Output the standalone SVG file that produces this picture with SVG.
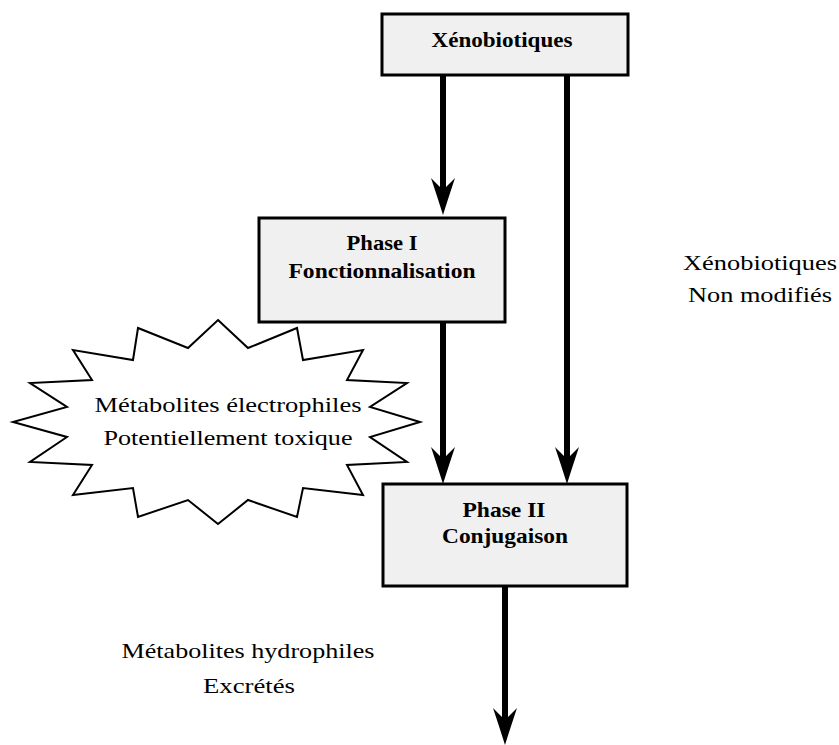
<svg xmlns="http://www.w3.org/2000/svg" width="839" height="745" viewBox="0 0 839 745">
<style>
.box{fill:#f0f0f0;stroke:#000;stroke-width:3}
.bt{font-family:'Liberation Serif','Times New Roman',serif;font-weight:bold;font-size:21px;fill:#000;text-anchor:middle}
.rt{font-family:'Liberation Serif','Times New Roman',serif;font-size:22px;fill:#000;text-anchor:middle}
.shaft{stroke:#000;stroke-width:6;fill:none}
.star{fill:#fff;stroke:#000;stroke-width:2;stroke-linejoin:miter}
</style>
<defs>
<marker id="arr" markerUnits="userSpaceOnUse" viewBox="-38 -13 40 26" markerWidth="40" markerHeight="26" refX="-25" refY="0" orient="auto">
<path d="M0,0 Q-16,-5 -37,-12 L-25,0 L-37,12 Q-16,5 0,0 Z" fill="#000"/>
</marker>
</defs>
<rect width="839" height="745" fill="#fff"/>
<g id="connectors">
<line class="shaft" x1="443" y1="75" x2="443" y2="190" marker-end="url(#arr)"/>
<line class="shaft" x1="567" y1="75" x2="567" y2="459" marker-end="url(#arr)"/>
<line class="shaft" x1="443" y1="322" x2="443" y2="459" marker-end="url(#arr)"/>
<line class="shaft" x1="505" y1="586" x2="505" y2="720" marker-end="url(#arr)"/>
</g>
<g id="xenobiotiques">
<rect class="box" x="382" y="14" width="246" height="61"/>
<text class="bt" x="502" y="47" textLength="141" lengthAdjust="spacingAndGlyphs">Xénobiotiques</text>
</g>
<g id="phase1">
<rect class="box" x="259" y="218" width="246" height="104"/>
<text class="bt" x="382" y="250" textLength="71" lengthAdjust="spacingAndGlyphs">Phase I</text>
<text class="bt" x="382" y="278" textLength="187" lengthAdjust="spacingAndGlyphs">Fonctionnalisation</text>
</g>
<g id="phase2">
<rect class="box" x="383" y="484" width="244" height="102"/>
<text class="bt" x="504" y="517" textLength="83" lengthAdjust="spacingAndGlyphs">Phase II</text>
<text class="bt" x="505" y="543" textLength="126" lengthAdjust="spacingAndGlyphs">Conjugaison</text>
</g>
<g id="metabolites-electrophiles">
<polygon class="star" points="218,320 248,348 297,328 303,360 363,350 347,380 407,383 370,407 420,422 370,437 407,462 347,465 363,495 303,488 297,517 248,500 218,524 188,500 138,517 133,488 73,495 92,465 30,462 67,437 13,422 67,407 30,383 92,380 73,350 133,360 138,328 188,348"/>
<text class="rt" x="228" y="412" textLength="267" lengthAdjust="spacingAndGlyphs">Métabolites électrophiles</text>
<text class="rt" x="228" y="445" textLength="249" lengthAdjust="spacingAndGlyphs">Potentiellement toxique</text>
</g>
<g id="xenobiotiques-non-modifies">
<text class="rt" x="760" y="270" textLength="154" lengthAdjust="spacingAndGlyphs">Xénobiotiques</text>
<text class="rt" x="760" y="302" textLength="144" lengthAdjust="spacingAndGlyphs">Non modifiés</text>
</g>
<g id="metabolites-hydrophiles">
<text class="rt" x="248" y="658" textLength="253" lengthAdjust="spacingAndGlyphs">Métabolites hydrophiles</text>
<text class="rt" x="249" y="693" textLength="92" lengthAdjust="spacingAndGlyphs">Excrétés</text>
</g>
</svg>
